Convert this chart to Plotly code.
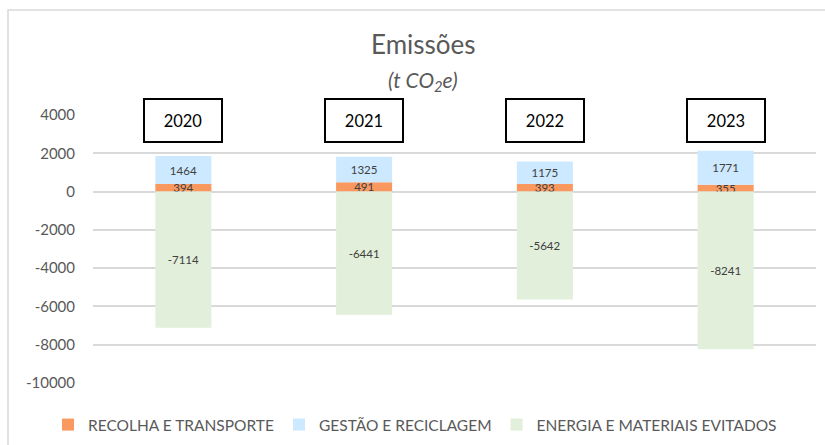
import plotly.graph_objects as go

# ── Data ──────────────────────────────────────────────────────────────────────
YEARS = ["2020", "2021", "2022", "2023"]
RECOLHA = [394, 491, 393, 355]
GESTAO = [1464, 1325, 1175, 1771]
ENERGIA = [-7114, -6441, -5642, -8241]
Y_TICKS = [4000, 2000, 0, -2000, -4000, -6000, -8000, -10000]

# ── Palette ───────────────────────────────────────────────────────────────────
ORANGE = "#F9985F"
BLUE = "#CCE9FF"
GREEN = "#E2EFDA"
GRID = "#D9D9D9"
TXT = "#595959"
FONT = "Lato"

fig = go.Figure()
series = [
    ("RECOLHA E TRANSPORTE", RECOLHA, ORANGE),
    ("GESTÃO E RECICLAGEM", GESTAO, BLUE),
    ("ENERGIA E MATERIAIS EVITADOS", ENERGIA, GREEN),
]
for name, vals, col in series:
    fig.add_trace(go.Bar(
        x=YEARS, y=vals, name=name,
        marker=dict(color=col, line=dict(width=0)),
        text=[str(v) for v in vals],
        textposition="inside", insidetextanchor="middle", textangle=0,
        textfont=dict(color="#404040", size=11.5, family=FONT),
    ))

# year boxes above each column (category index, since the labels look numeric)
for i, yr in enumerate(YEARS):
    fig.add_annotation(
        x=i, y=0.979, xref="x", yref="paper", text=yr, showarrow=False,
        xanchor="center", yanchor="middle",
        font=dict(size=16.5, color="black", family=FONT),
        bordercolor="black", borderwidth=2, borderpad=0,
        bgcolor="white", width=76, height=41,
    )

fig.add_annotation(x=(423 - 93) / 723, y=1.265, xref="paper", yref="paper", text="Emissões",
                   showarrow=False, xanchor="center", yanchor="middle",
                   font=dict(size=26, color=TXT, family=FONT))
fig.add_annotation(x=(423 - 93) / 723, y=1.127, xref="paper", yref="paper",
                   text="<i>(t CO<sub>2</sub>e)</i>", showarrow=False,
                   xanchor="center", yanchor="middle",
                   font=dict(size=21, color=TXT, family=FONT))

# chart frame (right and bottom edges fall outside the picture)
fig.add_shape(type="rect", xref="paper", yref="paper",
              x0=(8 - 93) / 723, x1=(840 - 93) / 723,
              y0=(383 - 460) / 268, y1=(383 - 10) / 268,
              line=dict(color="#D9D9D9", width=1.5), layer="below")

fig.update_layout(
    width=825, height=445,
    barmode="relative", bargap=0.69,
    plot_bgcolor="white", paper_bgcolor="white",
    font=dict(family=FONT, size=15, color=TXT),
    margin=dict(l=93, r=9, t=115, b=62, autoexpand=False),
    uniformtext=dict(minsize=11.5, mode="show"),
    legend=dict(orientation="h", x=(48 - 93) / 723, xanchor="left",
                y=-(425 - 383) / 268, yanchor="middle",
                font=dict(size=15.5, color=TXT, family=FONT), traceorder="normal"),
)
fig.update_xaxes(type="category", showticklabels=False, showgrid=False,
                 zeroline=False, showline=False)
fig.update_yaxes(range=[-10000, 4000], tickvals=Y_TICKS,
                 ticktext=[str(v) for v in Y_TICKS], showgrid=True,
                 gridcolor=GRID, gridwidth=1.5, zeroline=False, showline=False,
                 ticklabelstandoff=17, tickfont=dict(size=15, color=TXT, family=FONT))

fig.write_html("out.html", config={"displayModeBar": False},
               post_script="document.body.style.margin='0';")
